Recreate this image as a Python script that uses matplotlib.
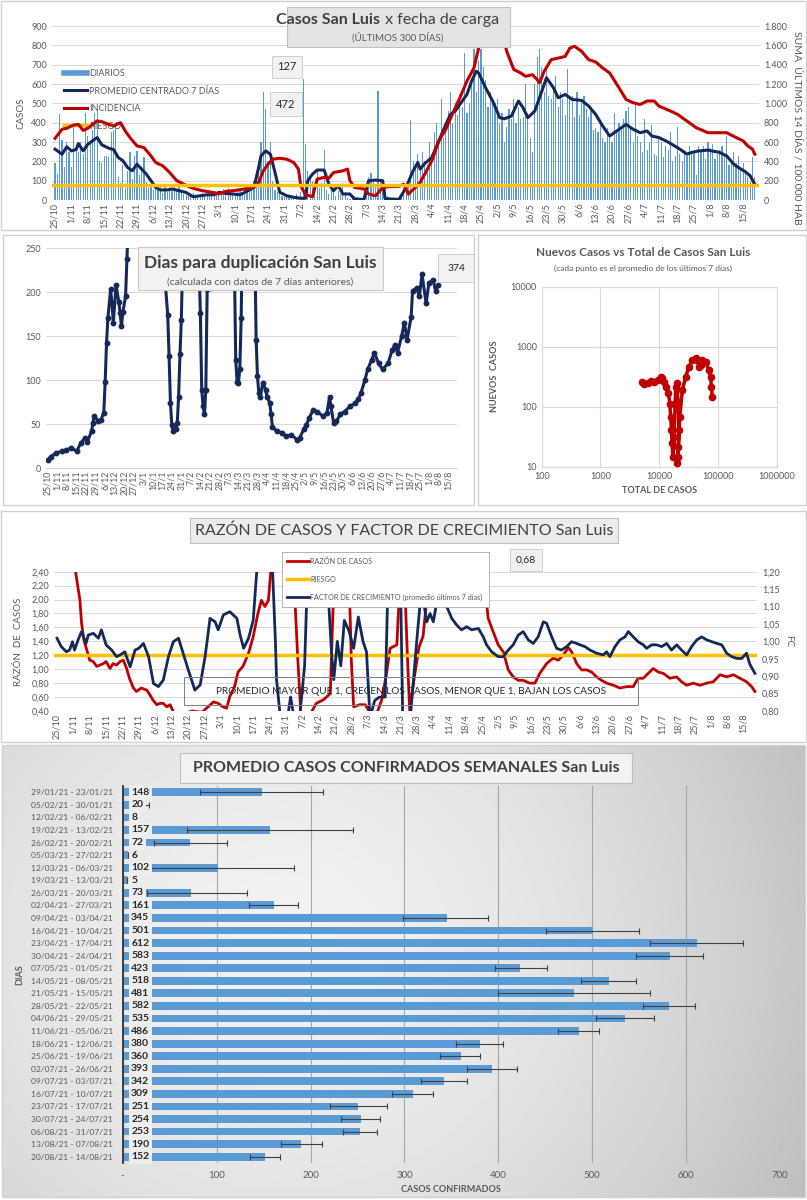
import numpy as np
import matplotlib
matplotlib.use("Agg")
import matplotlib.pyplot as plt
from matplotlib.patches import Rectangle
from matplotlib.lines import Line2D
from matplotlib.ticker import FixedLocator, FixedFormatter

plt.rcParams['font.family'] = ['Lato', 'DejaVu Sans']

W, H = 807, 1200
GRIS = '#595959'
NAVY = '#14285A'
ROJO = '#C00000'
AMAR = '#FFC000'
AZUL = '#5B9BD5'
GRID = '#D9D9D9'

# ---------------- data ----------------
fechas = ['25/10', '1/11', '8/11', '15/11', '22/11', '29/11', '6/12', '13/12', '20/12', '27/12',
          '3/1', '10/1', '17/1', '24/1', '31/1', '7/2', '14/2', '21/2', '28/2', '7/3', '14/3',
          '21/3', '28/3', '4/4', '11/4', '18/4', '25/4', '2/5', '9/5', '16/5', '23/5', '30/5',
          '6/6', '13/6', '20/6', '27/6', '4/7', '11/7', '18/7', '25/7', '1/8', '8/8', '15/8']

# casos diarios (ultimos 300 dias)
diarios = [190, 135, 445, 310, 170, 300, 250,
           170, 380, 260, 250, 300, 240, 450,
           330, 290, 360, 450, 470, 200, 190,
           230, 230, 220, 350, 360, 390, 120,
           90, 180, 60, 150, 250, 110, 230,
           255, 130, 150, 220, 95, 60, 75,
           50, 60, 55, 85, 35, 70, 40,
           60, 45, 70, 50, 80, 40, 30,
           25, 30, 20, 35, 25, 15, 30,
           35, 20, 25, 30, 40, 20, 35,
           45, 30, 55, 25, 60, 40, 30,
           35, 50, 45, 40, 70, 55, 60,
           85, 100, 150, 200, 300, 560, 470,
           200, 300, 100, 50, 40, 30, 20,
           15, 25, 20, 10, 5, 30, 10,
           40, 625, 290, 150, 120, 100, 90,
           160, 60, 90, 260, 50, 30, 60,
           40, 20, 45, 30, 90, 40, 10,
           5, 10, 20, 15, 10, 5, 0,
           90, 120, 140, 100, 80, 565, 110,
           90, 60, 20, 10, 5, 0, 10,
           5, 20, 60, 80, 100, 415, 200,
           180, 240, 160, 250, 200, 180, 300,
           240, 350, 400, 310, 520, 320, 380,
           460, 560, 400, 500, 440, 550, 480,
           760, 450, 500, 600, 780, 560, 720,
           780, 690, 620, 480, 560, 520, 500,
           520, 400, 450, 300, 380, 470, 420,
           520, 400, 480, 420, 430, 600, 450,
           320, 250, 600, 740, 780, 690, 560,
           700, 540, 520, 580, 640, 480, 560,
           520, 440, 680, 530, 540, 430, 560,
           440, 500, 540, 470, 430, 460, 360,
           370, 350, 400, 320, 300, 370, 330,
           300, 450, 350, 400, 380, 420, 460,
           480, 380, 300, 490, 330, 300, 250,
           420, 260, 300, 390, 240, 230, 320,
           300, 220, 280, 260, 350, 200, 230,
           380, 240, 200, 260, 230, 280, 240,
           250, 130, 280, 260, 280, 210, 300,
           270, 290, 210, 240, 260, 280, 240,
           330, 180, 200, 250, 190, 230, 160,
           190, 150, 120, 100, 220, 120]

prom_dias = [0, 3, 5, 7, 9, 10, 12, 14, 16, 18, 20, 23, 25, 27, 29, 31, 33, 35, 37, 39,
             41, 43, 45, 48, 50, 53, 56, 59, 62, 65, 68, 70, 73, 76, 79, 82, 85, 87, 88, 90,
             92, 94, 96, 99, 102, 105, 107, 108, 110, 112, 115, 117, 119, 121, 123, 126, 128, 132, 134, 137,
             140, 141, 147, 150, 153, 155, 156, 158, 161, 164, 167, 169, 171, 174, 176, 178, 180, 181, 184, 187,
             190, 192, 195, 198, 200, 202, 205, 208, 210, 213, 215, 218, 221, 225, 228, 231, 234, 237, 240, 244,
             247, 250, 253, 255, 258, 261, 264, 267, 270, 272, 275, 279, 284, 287, 290, 292, 295, 297, 299]
prom_vals = [263, 237, 275, 254, 261, 292, 254, 288, 306, 323, 285, 268, 261, 220, 203, 168, 151, 185, 160, 134,
             100, 65, 52, 52, 57, 48, 39, 17, 22, 27, 27, 40, 34, 31, 27, 45, 65, 168, 228, 254,
             237, 142, 40, 22, 14, 9, 9, 100, 134, 155, 155, 82, 48, 74, 31, 31, 5, 3, 100, 103,
             100, 7, 3, 65, 151, 194, 160, 189, 220, 306, 391, 443, 460, 512, 546, 615, 666, 657, 580, 512,
             426, 420, 434, 512, 477, 426, 460, 563, 632, 580, 529, 546, 520, 515, 486, 443, 383, 331, 357, 391,
             366, 348, 357, 331, 323, 306, 285, 263, 237, 246, 254, 258, 246, 228, 185, 168, 146, 125, 82]

inc_dias = [0, 3, 5, 8, 10, 12, 14, 16, 18, 20, 23, 25, 28, 30, 32, 35, 38, 41, 43, 46,
            49, 52, 55, 58, 60, 63, 68, 70, 73, 76, 80, 85, 87, 89, 91, 93, 96, 99, 102, 104,
            105, 107, 110, 112, 115, 117, 119, 123, 125, 126, 128, 132, 134, 137, 140, 143, 147, 149, 151, 154,
            156, 158, 161, 164, 167, 170, 173, 176, 179, 181, 184, 187, 190, 193, 196, 199, 201, 204, 206, 207,
            209, 212, 215, 218, 220, 222, 225, 228, 231, 234, 237, 241, 244, 247, 250, 253, 256, 258, 263, 266,
            269, 271, 274, 279, 283, 287, 291, 294, 296, 298, 299]
inc_vals = [638, 732, 742, 776, 782, 720, 742, 782, 818, 810, 782, 766, 800, 714, 646, 560, 542, 456, 388, 354,
            284, 200, 164, 130, 114, 96, 76, 62, 90, 96, 110, 130, 182, 302, 370, 422, 432, 422, 388, 320,
            148, 54, 34, 216, 234, 226, 284, 302, 320, 200, 130, 114, 62, 44, 130, 138, 140, 164, 62, 130,
            182, 268, 406, 612, 732, 902, 1058, 1230, 1366, 1572, 1900, 2000, 1840, 1538, 1350, 1314, 1280, 1296, 1246, 1212,
            1332, 1452, 1468, 1486, 1572, 1590, 1538, 1452, 1428, 1366, 1314, 1160, 1040, 1006, 988, 1024, 1024, 972, 920, 886,
            834, 800, 748, 696, 696, 696, 646, 612, 560, 526, 474]
riesgo_casos = 80
riesgo_inc = 160

dup_dias = [0, 2, 6, 10, 13, 17, 21, 24, 27, 29, 32, 33, 34, 37, 39, 41, 42, 43, 44, 46,
            47, 48, 50, 52, 53, 54, 55, 57, 58, 60, 66, 74, 80, 86, 88, 89, 90, 91, 92, 94,
            95, 96, 97, 98, 99, 101, 106, 110, 111, 112, 113, 114, 115, 116, 117, 119, 120, 122, 128, 135,
            137, 138, 139, 140, 141, 142, 143, 148, 151, 152, 153, 154, 155, 156, 158, 160, 161, 163, 164, 165,
            168, 172, 175, 179, 183, 185, 188, 190, 192, 195, 198, 202, 205, 207, 208, 210, 212, 215, 218, 222,
            226, 228, 230, 233, 235, 238, 240, 243, 246, 250, 253, 255, 257, 260, 262, 264, 267, 268, 271, 273,
            275, 278, 280, 283, 285, 287]
dup_vals = [9.5, 13, 17, 19, 20, 23, 19, 28, 34, 30, 42, 51, 59, 53, 55, 63, 98, 142, 170, 203,
            187, 165, 208, 189, 176, 161, 177, 195, 237, 320, 420, 600, 374, 214, 174, 127, 74, 49, 42, 44,
            51, 81, 129, 168, 240, 300, 500, 300, 233, 176, 89, 70, 61, 89, 203, 204, 206, 300, 420, 300,
            233, 123, 98, 97, 112, 170, 280, 400, 290, 256, 146, 104, 85, 81, 97, 89, 81, 74, 61, 47,
            42, 40, 36, 38, 32, 34, 44, 49, 57, 66, 64, 59, 62, 81, 70, 51, 53, 61, 64, 70,
            74, 78, 85, 100, 112, 123, 131, 119, 112, 119, 134, 140, 131, 150, 165, 146, 172, 201, 205, 195,
            220, 187, 210, 214, 201, 208]

total_casos = [5100, 5570, 6360, 7230, 8230, 9370, 10670, 11380, 12150, 13310, 14380, 15140, 15740, 16150,
               16590, 17020, 17950, 18640, 19140, 19900, 20960, 21790, 20760, 20330, 21230, 22350, 24780,
               28230, 32140, 36590, 41670, 44460, 47440, 50610, 54000, 61500, 70000, 74700, 77600, 79700]
nuevos_casos = [261, 239, 244, 271, 261, 279, 316, 296, 261, 215, 167, 113, 67, 41,
                24.5, 14.7, 31.6, 113, 215, 244, 113, 41, 14.7, 11.4, 21.5, 67, 190,
                316, 464, 599, 640, 599, 464, 494, 599, 562, 408, 316, 215, 147]

razon_dias = [7, 8.7, 9.8, 10.5, 11.5, 12.7, 14, 15.5, 17, 18.4, 19.8, 21, 22.7, 24, 25.5, 27, 28.4, 29.8, 31, 32.7,
              34, 36, 38.4, 39.8, 41, 42.7, 44, 45.5, 47, 48.4, 49.8, 51, 54, 58, 62, 64.7, 67, 69, 71, 72.6,
              74, 76, 77.5, 79.6, 82, 84, 86, 87.5, 89, 90.5, 92, 96, 101, 103, 104.5, 107, 109, 111, 114, 117,
              118.7, 121, 125, 126, 127, 129.6, 132, 134, 137, 139, 141, 142.6, 145.5, 147, 148, 150, 151, 153, 155, 156.7,
              158, 159, 165, 175, 182.5, 184.6, 186.7, 188.9, 191.1, 193.2, 195.3, 197.5, 199.6, 202.4, 204.6, 206.7, 209.6, 212.4, 214.6, 216.7,
              218.9, 220.3, 222.5, 224.6, 226.7, 228.9, 231, 233.2, 235.3, 238.2, 241, 243.9, 246.7, 248.8, 251, 253.1, 255.3, 257.4, 259.6, 262.4,
              265.3, 267.4, 269.6, 272.4, 275.3, 278.2, 281, 283.9, 286.7, 289.6, 292.4, 295.2, 297.4, 298.8]
razon_vals = [2.6, 2.23, 1.99, 1.66, 1.42, 1.28, 1.13, 1.11, 1.04, 1.06, 1.08, 1.11, 1.01, 1.08, 1.06, 1.11, 1.13, 1.01, 0.87, 0.73,
              0.68, 0.73, 0.70, 0.63, 0.56, 0.49, 0.51, 0.51, 0.46, 0.49, 0.39, 0.34, 0.36, 0.40, 0.38, 0.46, 0.53, 0.51, 0.46, 0.44,
              0.61, 0.75, 0.96, 1.04, 1.23, 1.47, 1.80, 1.99, 1.90, 1.99, 2.6, 3.0, 2.6, 1.2, 0.3, 0.3, 0.39, 0.51, 0.56, 0.65,
              2.4, 3.0, 2.4, 1.13, 0.46, 0.49, 0.49, 0.37, 0.37, 0.56, 0.92, 1.30, 1.35, 2.4, 3.0, 1.2, 0.40, 0.89, 1.32, 1.47,
              1.90, 2.40, 3.5, 3.5, 2.4, 1.73, 1.54, 1.35, 1.25, 0.99, 0.89, 0.84, 0.84, 0.80, 0.80, 0.94, 1.08, 1.16, 1.13, 1.20,
              1.31, 1.25, 1.08, 0.99, 0.99, 0.96, 0.89, 0.84, 0.80, 0.77, 0.73, 0.75, 0.75, 0.87, 0.87, 0.94, 1.01, 0.96, 0.94, 0.87,
              0.89, 0.82, 0.77, 0.80, 0.77, 0.80, 0.82, 0.92, 0.89, 0.92, 0.87, 0.82, 0.75, 0.68]

fc_dias = [0, 1.8, 4, 5.4, 6.6, 7.5, 9, 10.5, 12.4, 13.4, 15.5, 17.7, 19, 21, 23.4, 25.5, 27, 29, 31.3, 33.4,
           35, 37, 39.2, 41.3, 43.4, 45.5, 47.7, 49.8, 52, 54, 56.2, 59, 61.3, 63.4, 65.5, 67.7, 69, 71.2, 74, 77,
           78.4, 79.9, 82, 84, 85.5, 88, 92, 93.5, 94, 95.5, 98, 100, 102, 104, 106, 107.5, 112, 116, 117.5, 118.5,
           120, 121.5, 123, 125, 127, 129, 131, 132.5, 134, 136, 138, 140.5, 142, 145, 147, 148, 151, 154, 156, 157.5,
           158.3, 159.7, 161.1, 162.5, 164.7, 166.1, 167.5, 169, 171.1, 173.2, 175.4, 177.5, 180.4, 182.5, 183.9, 186.1, 188.9, 191.1, 193.2, 195.3,
           197.5, 199.6, 201.8, 203.9, 206, 208.2, 209.6, 211.8, 213.9, 216, 218.2, 220.3, 222.5, 223.9, 226, 228.2, 231, 233.9, 235.3, 236.7,
           238.9, 241, 243.2, 244.6, 246.7, 248.8, 251, 252.4, 254.6, 256.7, 258.9, 261, 263.1, 265.3, 267.4, 269.6, 271.7, 273.9, 276, 278.2,
           280.3, 282.5, 284.6, 286.7, 288.9, 291, 293.2, 295.2, 296.6, 298.8]
fc_vals = [1.009, 0.985, 0.970, 0.975, 0.999, 0.975, 1.004, 1.028, 0.994, 1.018, 1.023, 1.009, 1.033, 0.990, 0.975, 0.956, 0.961, 0.970, 0.927, 0.975,
           0.980, 0.994, 0.956, 0.879, 0.870, 0.889, 0.956, 0.999, 1.009, 0.966, 0.918, 0.860, 0.875, 0.956, 1.066, 1.056, 1.033, 1.076, 1.085, 1.066,
           1.018, 0.980, 1.009, 1.061, 1.20, 1.35, 1.25, 1.0, 0.889, 0.79, 0.75, 0.84, 0.76, 0.79, 0.93, 1.25, 1.30, 1.15, 0.97, 0.89,
           1.00, 0.93, 1.06, 1.03, 0.98, 1.07, 1.00, 0.97, 0.78, 0.83, 0.84, 0.84, 1.25, 1.30, 1.20, 0.78, 0.76, 1.0, 1.15, 1.090,
           1.056, 1.080, 1.056, 1.109, 1.119, 1.109, 1.090, 1.066, 1.047, 1.033, 1.042, 1.033, 1.037, 1.013, 0.990, 0.970, 0.956, 0.956, 0.975, 0.990,
           1.018, 1.028, 1.004, 0.994, 1.013, 1.056, 1.052, 1.013, 0.980, 0.975, 0.985, 0.999, 0.994, 0.990, 0.985, 0.975, 0.966, 0.961, 0.970, 0.956,
           0.985, 1.004, 1.013, 1.028, 1.013, 0.999, 0.990, 0.980, 0.990, 0.990, 0.985, 0.994, 0.975, 0.990, 0.975, 0.961, 0.985, 1.004, 1.013, 1.004,
           0.999, 0.994, 0.990, 0.966, 0.956, 0.951, 0.951, 0.966, 0.935, 0.908]
riesgo_razon = 1.20

semanas = ['29/01/21 - 23/01/21', '05/02/21 - 30/01/21', '12/02/21 - 06/02/21', '19/02/21 - 13/02/21',
           '26/02/21 - 20/02/21', '05/03/21 - 27/02/21', '12/03/21 - 06/03/21', '19/03/21 - 13/03/21',
           '26/03/21 - 20/03/21', '02/04/21 - 27/03/21', '09/04/21 - 03/04/21', '16/04/21 - 10/04/21',
           '23/04/21 - 17/04/21', '30/04/21 - 24/04/21', '07/05/21 - 01/05/21', '14/05/21 - 08/05/21',
           '21/05/21 - 15/05/21', '28/05/21 - 22/05/21', '04/06/21 - 29/05/21', '11/06/21 - 05/06/21',
           '18/06/21 - 12/06/21', '25/06/21 - 19/06/21', '02/07/21 - 26/06/21', '09/07/21 - 03/07/21',
           '16/07/21 - 10/07/21', '23/07/21 - 17/07/21', '30/07/21 - 24/07/21', '06/08/21 - 31/07/21',
           '13/08/21 - 07/08/21', '20/08/21 - 14/08/21']
promedio_sem = [148, 20, 8, 157, 72, 6, 102, 5, 73, 161, 345, 501, 612, 583, 423, 518, 481, 582, 535, 486,
                380, 360, 393, 342, 309, 251, 254, 253, 190, 152]
minimo_sem = [82, 15, 8, 69, 33, 6, 30, 5, 26, 135, 299, 451, 562, 547, 396, 488, 400, 554, 504, 464,
              355, 338, 367, 318, 287, 221, 232, 235, 169, 136]
maximo_sem = [213, 28, 8, 245, 111, 6, 182, 5, 132, 187, 389, 550, 661, 618, 452, 547, 562, 609, 566, 507,
              405, 381, 420, 367, 330, 282, 274, 271, 212, 168]

# ---------------- helpers ----------------
fig = plt.figure(figsize=(W / 100, H / 100), dpi=100)


def axes_px(x0, y0, x1, y1, **kw):
    return fig.add_axes([x0 / W, 1 - y1 / H, (x1 - x0) / W, (y1 - y0) / H], **kw)


def rect_px(x0, y0, x1, y1, fc='none', ec='#BFBFBF', lw=0.8, z=5):
    r = Rectangle((x0 / W, 1 - y1 / H), (x1 - x0) / W, (y1 - y0) / H, transform=fig.transFigure,
                  facecolor=fc, edgecolor=ec, lw=lw, zorder=z)
    fig.add_artist(r)


def text_px(x, y, s, **kw):
    kw.setdefault('zorder', 6)
    return fig.text(x / W, 1 - y / H, s, **kw)


def limpiar(ax):
    for s in ax.spines.values():
        s.set_visible(False)
    ax.tick_params(length=0, colors=GRIS, labelsize=6.5)


def coma(v, d=2):
    return f'{v:.{d}f}'.replace('.', ',')


dias_tick = np.arange(len(fechas)) * 7

# ---------------- 1) casos diarios ----------------
ax1 = axes_px(52, 26, 759, 200)
limpiar(ax1)
ax1.bar(np.arange(len(diarios)), diarios, width=0.5, color=AZUL, zorder=2)
ax1.plot(prom_dias, prom_vals, color=NAVY, lw=2.2, zorder=3)
ax1.set_ylim(0, 900)
ax1.set_yticks(range(0, 901, 100))
ax1.set_xlim(-1.3, 300.8)
ax1.set_xticks(dias_tick)
ax1.set_xticklabels(fechas, rotation=90)
ax1.tick_params(axis='x', pad=2)
ax1.grid(axis='y', color=GRID, lw=0.7, zorder=0)
ax1.set_axisbelow(True)
ax1.set_ylabel('CASOS', fontsize=7, color=GRIS, labelpad=4)

ax1b = ax1.twinx()
limpiar(ax1b)
ax1b.plot(inc_dias, inc_vals, color=ROJO, lw=2.2)
ax1b.axhline(riesgo_inc, color=AMAR, lw=2.5)
ax1b.set_ylim(0, 1800)
ax1b.set_yticks(range(0, 1801, 200))
ax1b.set_yticklabels([f'{v:,}'.replace(',', '.') for v in range(0, 1801, 200)])
ax1b.set_xlim(-1.3, 300.8)

leg_h = [Line2D([], [], color=AZUL, lw=4), Line2D([], [], color=NAVY, lw=2.2),
         Line2D([], [], color=ROJO, lw=2.2), Line2D([], [], color=AMAR, lw=2.5)]
ax1.legend(leg_h, ['DIARIOS', 'PROMEDIO CENTRADO 7 DÍAS', 'INCIDENCIA', 'RIESGO'],
           loc='upper left', bbox_to_anchor=(0.005, 0.8), frameon=False, fontsize=6.5,
           labelcolor=GRIS, handlelength=2.6, handletextpad=0.2, labelspacing=0.95)

rect_px(287, 7, 510, 47, fc='#E4E4E4', ec='#BFBFBF')
text_px(380, 20, 'Casos San Luis', fontsize=11.5, weight='bold', color='#404040', ha='right', va='center')
text_px(381, 20, ' x fecha de carga', fontsize=11.5, color='#404040', ha='left', va='center')
text_px(398, 37, '(ÚLTIMOS 300 DÍAS)', fontsize=7, color=GRIS, ha='center', va='center')
text_px(287, 67, '127', fontsize=8, color='#262626', ha='center', va='center',
        bbox=dict(boxstyle='square,pad=0.5', fc='#F2F2F2', ec='#C8C8C8', lw=0.6))
text_px(286, 104, '472', fontsize=8, color='#262626', ha='center', va='center',
        bbox=dict(boxstyle='square,pad=0.6', fc='#F2F2F2', ec='#C8C8C8', lw=0.6))
text_px(797, 128, 'SUMA  ÚLTIMOS 14 DÍAS / 100.000 HAB', fontsize=7.5, color=GRIS,
        rotation=270, ha='center', va='center')

# ---------------- 2) dias para duplicacion ----------------
ax2 = axes_px(46, 248, 457, 468)
limpiar(ax2)
ax2.spines['bottom'].set_visible(True)
ax2.spines['bottom'].set_color(GRID)
ax2.plot(dup_dias, dup_vals, color=NAVY, lw=2.2, marker='o', ms=3.2, zorder=3)
ax2.set_ylim(0, 250)
ax2.set_yticks(range(0, 251, 50))
ax2.set_xlim(-1.5, 300.7)
ax2.set_xticks(dias_tick)
ax2.set_xticklabels(fechas, rotation=90)
ax2.tick_params(axis='x', pad=2, labelsize=6.3)
ax2.grid(axis='y', color=GRID, lw=0.7)
ax2.set_axisbelow(True)

rect_px(138, 247, 383, 290, fc='#F2F2F2', ec='#C8C8C8')
text_px(260, 263, 'Dias para duplicación San Luis', fontsize=12.5, weight='bold', color='#404040',
        ha='center', va='center')
text_px(260, 282, '(calculada con datos de 7 días anteriores)', fontsize=7.5, color=GRIS,
        ha='center', va='center')
text_px(456, 268, '374', fontsize=7.5, color='#262626', ha='center', va='center',
        bbox=dict(boxstyle='square,pad=0.9', fc='#F2F2F2', ec='#C8C8C8', lw=0.6))

# ---------------- 3) nuevos vs total ----------------
ax3 = axes_px(541.7, 286.7, 776.7, 466.7)
ax3.set_xscale('log')
ax3.set_yscale('log')
ax3.plot(total_casos, nuevos_casos, color=ROJO, lw=2.5, marker='o', ms=4.5, zorder=3)
ax3.set_xlim(100, 1e6)
ax3.set_ylim(10, 1e4)
for s in ax3.spines.values():
    s.set_color(GRID)
ax3.tick_params(which='both', length=0, colors=GRIS, labelsize=6.5)
xt = [100, 1000, 10000, 100000, 1000000]
yt = [10, 100, 1000, 10000]
ax3.xaxis.set_major_locator(FixedLocator(xt))
ax3.xaxis.set_major_formatter(FixedFormatter([str(v) for v in xt]))
ax3.yaxis.set_major_locator(FixedLocator(yt))
ax3.yaxis.set_major_formatter(FixedFormatter([str(v) for v in yt]))
ax3.xaxis.set_minor_locator(FixedLocator([]))
ax3.yaxis.set_minor_locator(FixedLocator([]))
ax3.grid(color=GRID, lw=0.8)
ax3.set_axisbelow(True)
ax3.set_xlabel('TOTAL DE CASOS', fontsize=6.5, weight='bold', color=GRIS, labelpad=4)
ax3.set_ylabel('NUEVOS  CASOS', fontsize=6.5, weight='bold', color=GRIS, labelpad=8)
text_px(643, 253, 'Nuevos Casos vs Total de Casos San Luis', fontsize=8.5, weight='bold', color=GRIS,
        ha='center', va='center')
text_px(643, 268, '(cada punto es el promedio de los últimos 7 días)', fontsize=6, color=GRIS,
        ha='center', va='center')

# ---------------- 4) razon de casos / factor de crecimiento ----------------
ax4 = axes_px(54, 571.7, 757, 711)
limpiar(ax4)
ax4.plot(razon_dias, razon_vals, color=ROJO, lw=2)
ax4.set_ylim(0.4, 2.4)
rt = np.round(np.arange(0.4, 2.41, 0.2), 2)
ax4.set_yticks(rt)
ax4.set_yticklabels([coma(v) for v in rt])
ax4.set_xlim(-1.3, 299.7)
ax4.set_xticks(dias_tick)
ax4.set_xticklabels(fechas, rotation=90)
ax4.tick_params(axis='x', pad=2)
ax4.grid(axis='y', color=GRID, lw=0.7)
ax4.set_axisbelow(True)
ax4.set_ylabel('RAZÓN  DE  CASOS', fontsize=7, color=GRIS, labelpad=6)

ax4b = ax4.twinx()
limpiar(ax4b)
ax4b.axhline(0.8 + (riesgo_razon - 0.4) * 0.2, color=AMAR, lw=2.5)
ax4b.plot(fc_dias, fc_vals, color=NAVY, lw=2)
ax4b.set_ylim(0.8, 1.2)
ft = np.round(np.arange(0.8, 1.201, 0.05), 2)
ax4b.set_yticks(ft)
ax4b.set_yticklabels([coma(v) for v in ft])
ax4b.set_xlim(-1.3, 299.7)
ax4b.set_ylabel('FC', fontsize=7, color=GRIS, rotation=270, labelpad=10)

leg4 = [Line2D([], [], color=ROJO, lw=2), Line2D([], [], color=AMAR, lw=2.5), Line2D([], [], color=NAVY, lw=2)]
lg = ax4b.legend(leg4, ['RAZÓN DE CASOS', 'RIESGO', 'FACTOR DE CRECIMIENTO (promedio últimos 7 días)'],
                 loc='upper left', bbox_to_anchor=(278 / W, 1 - 548 / H), bbox_transform=fig.transFigure,
                 fontsize=5.2, labelcolor=GRIS, handlelength=3.0, handletextpad=0.2, labelspacing=1.5,
                 fancybox=False, edgecolor='#A6A6A6', framealpha=1, borderpad=0.8)
lg.get_frame().set_linewidth(0.6)

rect_px(190, 518, 618, 543, fc='#ECECEC', ec='#BFBFBF')
text_px(404, 531, 'RAZÓN DE CASOS Y FACTOR DE CRECIMIENTO San Luis', fontsize=11.5, color='#404040',
        ha='center', va='center')
text_px(526, 560, '0,68', fontsize=7.5, color='#262626', ha='center', va='center',
        bbox=dict(boxstyle='square,pad=0.6', fc='#F2F2F2', ec='#C8C8C8', lw=0.6))
rect_px(184, 677, 638, 705, fc='none', ec='#7F7F7F', lw=0.7)
text_px(411, 691, 'PROMEDIO MAYOR QUE 1, CRECEN LOS CASOS, MENOR QUE 1, BAJAN LOS CASOS',
        fontsize=7.2, color='#262626', ha='center', va='center')

# ---------------- 5) promedio semanal ----------------
bg = axes_px(2, 745, 805, 1197)
bg.axis('off')
gx, gy = np.meshgrid(np.linspace(0, 1, 300), np.linspace(0, 1, 200))
rr = np.sqrt((gx - 0.35) ** 2 + (0.6 * (gy - 0.45)) ** 2)
bg.imshow(0.95 - 0.34 * rr ** 1.6, cmap='gray', vmin=0, vmax=1, aspect='auto',
          extent=(0, 1, 0, 1), interpolation='bilinear')

ax5 = axes_px(122.7, 786, 780, 1163)
ax5.set_facecolor('none')
yy = np.arange(len(semanas))
vals = np.array(promedio_sem)
ax5.barh(yy, vals, height=0.62, color=AZUL, zorder=2)
ax5.errorbar(vals, yy, xerr=[vals - np.array(minimo_sem), np.array(maximo_sem) - vals], fmt='none',
             ecolor='#404040', elinewidth=0.8, capsize=2, capthick=0.8, zorder=3)
for i, v in enumerate(promedio_sem):
    ax5.text(9, i, str(v), fontsize=7.5, weight='bold', color='#262626', ha='left', va='center', zorder=4,
             bbox=dict(boxstyle='square,pad=0.25', fc='#EDEDED', ec='none'))
ax5.set_ylim(len(semanas) - 0.5, -0.5)
ax5.set_xlim(0, 700)
ax5.set_yticks(yy)
ax5.set_yticklabels(semanas)
ax5.set_xticks(range(0, 701, 100))
ax5.set_xticklabels(['-'] + [str(v) for v in range(100, 701, 100)])
ax5.tick_params(length=0, colors=GRIS, labelsize=7)
ax5.tick_params(axis='y', pad=7, labelsize=6.1)
ax5.tick_params(axis='x', pad=6)
for s in ['top', 'right', 'bottom']:
    ax5.spines[s].set_visible(False)
ax5.spines['left'].set_color('#262626')
ax5.spines['left'].set_linewidth(1.2)
ax5.grid(axis='x', color='#A6A6A6', lw=0.8)
ax5.set_axisbelow(True)
ax5.set_xlabel('CASOS CONFIRMADOS', fontsize=6.5, weight='bold', color=GRIS, labelpad=3)
text_px(20, 975, 'DIAS', fontsize=6.5, weight='bold', color=GRIS, rotation=90, ha='center', va='center')

rect_px(180, 753, 632, 783, fc='#F2F2F2', ec='#BFBFBF')
text_px(406, 768, 'PROMEDIO CASOS CONFIRMADOS SEMANALES San Luis', fontsize=11.5, weight='bold',
        color='#404040', ha='center', va='center')

# ---------------- panel borders ----------------
rect_px(1, 1, 806, 230, ec='#D0D0D0', lw=1, z=10)
rect_px(3, 235, 474, 505, ec='#D0D0D0', lw=1, z=10)
rect_px(478, 235, 806, 505, ec='#D0D0D0', lw=1, z=10)
rect_px(1, 511, 806, 742, ec='#D0D0D0', lw=1, z=10)
rect_px(2, 745, 805, 1197, ec='#D0D0D0', lw=1, z=10)

fig.savefig('out.png', dpi=100)
